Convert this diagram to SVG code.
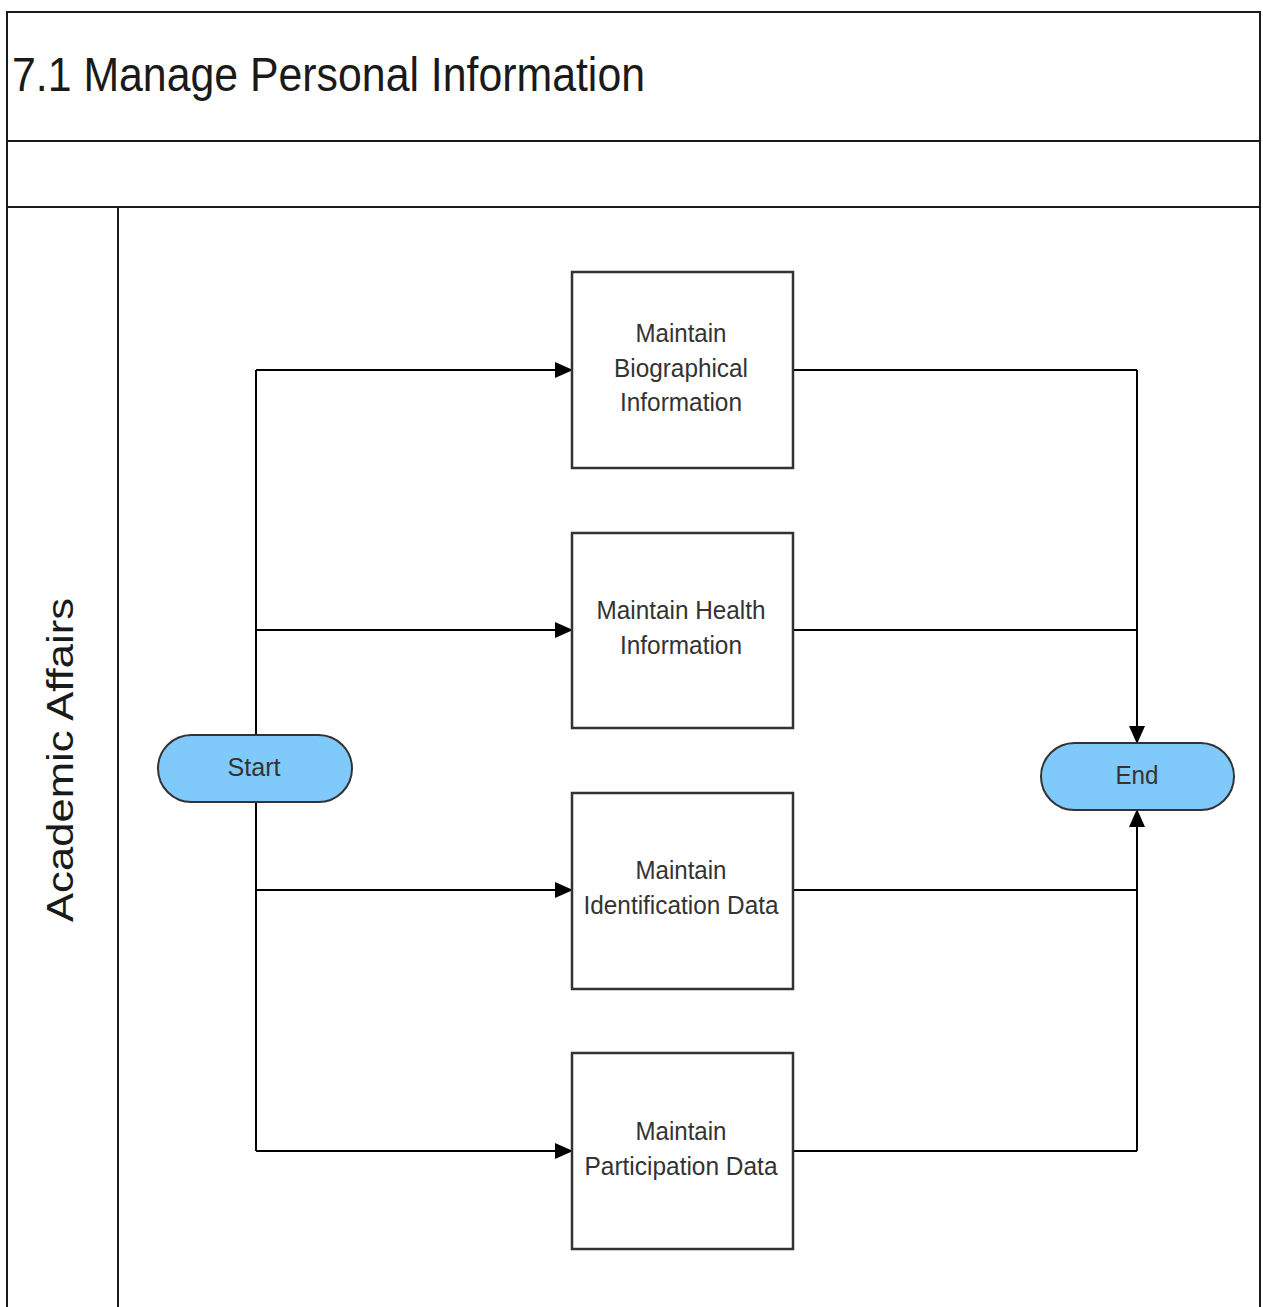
<svg xmlns="http://www.w3.org/2000/svg" width="1263" height="1307" viewBox="0 0 1263 1307">
<style>
.frame{fill:none;stroke:#1a1a1a;stroke-width:2}
.box{fill:#fff;stroke:#333;stroke-width:2.5}
.term{fill:#80c9fb;stroke:#333;stroke-width:2}
.lbl{font-family:"Liberation Sans",Arial,sans-serif;font-size:25px;fill:#333;text-anchor:middle}
.conn{fill:none;stroke:#000;stroke-width:2}
</style>
<defs>
<marker id="arr" markerWidth="18" markerHeight="16" refX="17" refY="8" orient="auto" markerUnits="userSpaceOnUse" viewBox="0 0 18 16">
<path d="M0,0 L18,8 L0,16 Z" fill="#000"/>
</marker>
</defs>
<rect width="1263" height="1307" fill="#fff"/>
<g id="pool">
<path class="frame" d="M7,1307 V12 H1260 V1307"/>
<line class="frame" x1="7" y1="141" x2="1260" y2="141"/>
<line class="frame" x1="7" y1="207" x2="1260" y2="207"/>
<line class="frame" x1="118" y1="207" x2="118" y2="1307"/>
<text x="12" y="91" font-family="Liberation Sans, Arial, sans-serif" font-size="49" fill="#1a1a1a" textLength="633" lengthAdjust="spacingAndGlyphs">7.1 Manage Personal Information</text>
<text transform="translate(73,760) rotate(-90)" font-family="Liberation Sans, Arial, sans-serif" font-size="36" fill="#1a1a1a" text-anchor="middle" textLength="324" lengthAdjust="spacingAndGlyphs">Academic Affairs</text>
</g>
<g id="connectors">
<line class="conn" x1="256" y1="370" x2="256" y2="1151"/>
<line class="conn" x1="256" y1="370" x2="572" y2="370" marker-end="url(#arr)"/>
<line class="conn" x1="256" y1="630" x2="572" y2="630" marker-end="url(#arr)"/>
<line class="conn" x1="256" y1="890" x2="572" y2="890" marker-end="url(#arr)"/>
<line class="conn" x1="256" y1="1151" x2="572" y2="1151" marker-end="url(#arr)"/>
<line class="conn" x1="793" y1="370" x2="1137" y2="370"/>
<line class="conn" x1="793" y1="630" x2="1137" y2="630"/>
<line class="conn" x1="793" y1="890" x2="1137" y2="890"/>
<line class="conn" x1="793" y1="1151" x2="1137" y2="1151"/>
<line class="conn" x1="1137" y1="370" x2="1137" y2="743" marker-end="url(#arr)"/>
<line class="conn" x1="1137" y1="1151" x2="1137" y2="810" marker-end="url(#arr)"/>
</g>
<g id="start">
<rect class="term" x="158" y="735" width="194" height="67" rx="33.5"/>
<text class="lbl" x="254" y="776" textLength="53" lengthAdjust="spacingAndGlyphs">Start</text>
</g>
<g id="end">
<rect class="term" x="1041" y="743" width="193" height="67" rx="33.5"/>
<text class="lbl" x="1137" y="784" textLength="43" lengthAdjust="spacingAndGlyphs">End</text>
</g>
<g id="bio">
<rect class="box" x="572" y="272" width="221" height="196"/>
<text class="lbl" x="681" y="342" textLength="91" lengthAdjust="spacingAndGlyphs">Maintain</text>
<text class="lbl" x="681" y="377" textLength="134" lengthAdjust="spacingAndGlyphs">Biographical</text>
<text class="lbl" x="681" y="411" textLength="122" lengthAdjust="spacingAndGlyphs">Information</text>
</g>
<g id="health">
<rect class="box" x="572" y="533" width="221" height="195"/>
<text class="lbl" x="681" y="619" textLength="169" lengthAdjust="spacingAndGlyphs">Maintain Health</text>
<text class="lbl" x="681" y="654" textLength="122" lengthAdjust="spacingAndGlyphs">Information</text>
</g>
<g id="ident">
<rect class="box" x="572" y="793" width="221" height="196"/>
<text class="lbl" x="681" y="879" textLength="91" lengthAdjust="spacingAndGlyphs">Maintain</text>
<text class="lbl" x="681" y="914" textLength="195" lengthAdjust="spacingAndGlyphs">Identification Data</text>
</g>
<g id="partic">
<rect class="box" x="572" y="1053" width="221" height="196"/>
<text class="lbl" x="681" y="1140" textLength="91" lengthAdjust="spacingAndGlyphs">Maintain</text>
<text class="lbl" x="681" y="1175" textLength="193" lengthAdjust="spacingAndGlyphs">Participation Data</text>
</g>
</svg>
